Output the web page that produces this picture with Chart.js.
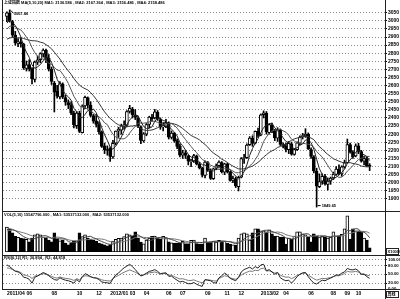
<!DOCTYPE html>
<html>
<head>
<meta charset="utf-8">
<script src="https://cdn.jsdelivr.net/npm/chart.js@4/dist/chart.umd.min.js"></script>
<style>
  body { margin: 0; background: #fff; }
  #wrap { position: relative; width: 400px; height: 299px; overflow: hidden; }
  canvas { position: absolute; left: 0; }
</style>
</head>
<body>
<div id="wrap">
  <canvas id="priceChart" width="400" height="212" style="top:0"></canvas>
  <canvas id="volChart" width="400" height="44" style="top:212px"></canvas>
  <canvas id="rsiChart" width="400" height="43" style="top:256px"></canvas>
</div>
<script>
// weekly candles, Shanghai composite
const open = [3028,3050,2995,2912,2860,2870,2855,2706,2730,2703, 2638,2745,2760,2795,2818,2770,2700,2615,2565,2530,
  2610,2526,2495,2480,2430,2352,2430,2310,2475,2525, 2480,2415,2382,2360,2315,2228,2203,2212,2160,2245,
  2320,2325,2350,2355,2440,2455,2420,2400,2345,2258, 2300,2360,2405,2400,2435,2390,2345,2350,2370,2280,
  2305,2260,2228,2170,2185,2165,2130,2135,2165,2115, 2090,2045,2125,2075,2025,2090,2105,2125,2065,2115,
  2065,2015,2025,1975,2035,2150,2155,2235,2275,2245, 2318,2295,2420,2430,2310,2355,2320,2275,2325,2235,
  2225,2205,2240,2175,2205,2245,2285,2290,2300,2205, 2160,2070,1975,2010,2040,1990,2010,2030,2052,2085,
  2055,2098,2124,2236,2190,2165,2228,2193,2133,2150, 2106];
const high = [3056,3067.46,3003,2935,2890,2893,2862,2752,2760,2712, 2752,2783,2803,2827,2826,2792,2715,2626,2602,2625,
  2617,2541,2512,2500,2442,2440,2442,2481,2536,2530, 2500,2422,2423,2376,2320,2245,2228,2220,2262,2320,
  2342,2362,2383,2446,2478,2466,2452,2412,2352,2310, 2366,2411,2422,2453,2446,2401,2371,2391,2376,2320,
  2311,2271,2240,2201,2200,2171,2146,2176,2171,2126, 2096,2136,2131,2086,2091,2116,2136,2131,2121,2121,
  2071,2041,2036,2041,2156,2175,2240,2285,2290,2320, 2337,2425,2444,2440,2365,2368,2330,2340,2332,2246,
  2243,2255,2251,2212,2252,2290,2305,2334,2308,2215, 2168,2090,2055,2055,2052,2030,2035,2066,2100,2110,
  2105,2140,2270,2245,2198,2240,2244,2200,2165,2160, 2118];
const low = [2995,2992,2900,2850,2840,2837,2700,2690,2690,2610, 2622,2730,2741,2776,2741,2690,2607,2437,2522,2518,
  2520,2478,2458,2420,2338,2335,2310,2307,2458,2460, 2408,2368,2344,2300,2218,2180,2170,2132,2150,2234,
  2280,2300,2330,2348,2430,2400,2390,2340,2242,2250, 2290,2340,2380,2394,2385,2330,2320,2340,2270,2270,
  2250,2210,2160,2150,2150,2110,2100,2125,2110,2085, 2035,2030,2070,2020,2020,2080,2095,2060,2050,2060,
  2010,2000,1970,1949.46,2030,2120,2150,2230,2225,2240, 2280,2290,2400,2300,2300,2310,2260,2255,2230,2215,
  2190,2180,2170,2170,2200,2235,2270,2280,2205,2150, 2060,1849.65,1970,1990,1985,1955,1990,2020,2045,2050,
  2040,2090,2120,2182,2150,2160,2180,2127,2110,2100, 2075];
const close = [3050,2999,2911,2864,2871,2858,2709,2728,2705,2642, 2746,2759,2797,2820,2772,2701,2626,2560,2534,2612,
  2528,2497,2482,2432,2359,2431,2317,2473,2528,2481, 2416,2380,2361,2315,2224,2204,2199,2163,2244,2319,
  2330,2352,2357,2439,2460,2420,2404,2349,2262,2302, 2359,2406,2396,2438,2394,2344,2350,2373,2281,2306,
  2260,2225,2170,2185,2168,2133,2132,2168,2114,2092, 2047,2127,2078,2026,2086,2104,2128,2067,2117,2069,
  2014,2026,1980,2033,2150,2153,2233,2276,2243,2317, 2292,2419,2432,2314,2359,2318,2278,2328,2236,2225,
  2206,2244,2177,2205,2246,2282,2288,2300,2210,2162, 2073,1979,2007,2039,1992,2010,2029,2052,2085,2057,
  2098,2124,2236,2191,2160,2228,2193,2133,2150,2106, 2101];

const ma5 = [2986,3005,2991,2971,2939,2901,2843,2806,2774,2728, 2706,2716,2730,2753,2779,2770,2743,2696,2639,2607,
  2572,2546,2531,2510,2460,2440,2404,2402,2422,2446, 2443,2456,2433,2391,2339,2297,2261,2221,2207,2226,
  2251,2282,2320,2359,2388,2406,2416,2414,2379,2347, 2335,2336,2345,2380,2399,2396,2384,2380,2348,2331,
  2314,2289,2248,2229,2202,2176,2158,2157,2143,2128, 2111,2110,2092,2074,2073,2084,2084,2082,2100,2097,
  2079,2059,2041,2024,2041,2068,2110,2169,2211,2244, 2272,2309,2341,2355,2363,2368,2340,2319,2304,2277,
  2255,2248,2218,2211,2216,2231,2240,2264,2265,2248, 2207,2145,2086,2052,2018,2005,2015,2024,2034,2047,
  2064,2083,2120,2141,2162,2188,2202,2181,2173,2162, 2137];
const ma10 = [2949,2967,2968,2964,2951,2944,2924,2899,2873,2834, 2804,2780,2768,2764,2754,2738,2730,2713,2696,2693,
  2671,2645,2614,2575,2534,2506,2475,2467,2466,2453, 2442,2430,2418,2407,2393,2370,2359,2327,2299,2283,
  2274,2272,2271,2283,2307,2329,2349,2367,2369,2368, 2371,2376,2380,2380,2373,2366,2360,2363,2364,2365,
  2355,2337,2314,2289,2267,2245,2224,2203,2186,2165, 2144,2134,2125,2109,2101,2098,2097,2087,2087,2085,
  2082,2072,2062,2062,2069,2074,2085,2105,2118,2143, 2170,2210,2255,2283,2304,2320,2325,2330,2330,2320,
  2312,2294,2269,2258,2247,2243,2244,2241,2238,2232, 2219,2193,2175,2159,2133,2106,2080,2055,2043,2033,
  2035,2049,2072,2088,2105,2126,2143,2151,2157,2162, 2163];
const ma20 = [2887,2894,2897,2896,2894,2896,2891,2885,2881,2877, 2877,2874,2868,2864,2853,2841,2827,2806,2785,2764,
  2738,2713,2691,2670,2644,2622,2603,2590,2581,2573, 2557,2538,2516,2491,2464,2438,2417,2397,2383,2368,
  2358,2351,2345,2345,2350,2350,2354,2347,2334,2326, 2323,2324,2326,2332,2340,2348,2355,2365,2367,2367,
  2363,2357,2347,2335,2320,2306,2292,2283,2275,2265, 2250,2236,2220,2199,2184,2172,2161,2145,2137,2125,
  2113,2103,2094,2086,2085,2086,2091,2096,2103,2114, 2126,2141,2159,2173,2187,2197,2205,2218,2224,2232,
  2241,2252,2262,2271,2276,2282,2285,2286,2284,2276, 2266,2244,2222,2209,2190,2175,2162,2148,2141,2133,
  2127,2121,2124,2124,2119,2116,2112,2103,2100,2098, 2099];

const volume = [7300,6800,5600,4600,4300,4100,3900,3700,3000,4100, 5000,5300,5000,4400,4100,3500,3000,5600,3800,3300,
  3500,2600,2100,2600,3200,3300,5600,4500,5000,4100, 3800,3400,3200,2600,2400,2100,1800,2200,3200,3700,
  4000,4100,4500,5300,5000,4700,5900,4100,2900,2400, 3500,4100,4600,4700,4100,3800,4600,4100,3000,2700,
  2600,2600,2600,3100,2400,2300,3400,3500,2500,2300, 2300,4100,2900,3000,3200,2900,3400,3300,3200,2600,
  2300,2100,2000,4100,5300,5600,5300,3500,5600,6800, 6800,6200,6200,5900,6500,5300,4700,4700,4400,4400,
  2300,4100,3800,4700,5900,5900,5300,5000,4400,3000, 5300,4700,4400,4700,4400,4100,4300,5900,4700,4600,
  5200,6800,10600,3800,6800,6200,6200,5900,4100,3500, 1200];
const volMa5 = [6560,6720,6640,6260,5720,5080,4500,4120,3800,3760, 3940,4220,4480,4760,4760,4460,4000,4120,4000,3840,
  3840,3760,3060,2820,2800,2760,3360,3840,4320,4500, 4600,4160,3900,3420,3080,2740,2420,2220,2340,2600,
  2980,3440,3900,4320,4580,4720,5080,5000,4520,4000, 3760,3400,3500,3860,4200,4260,4360,4260,3920,3640,
  3400,3000,2700,2720,2660,2600,2760,2940,2820,2800, 2800,2940,2820,2920,3100,3220,3080,3160,3200,3080,
  2960,2700,2440,2620,3160,3820,4460,4760,5060,5360, 5600,5780,6320,6380,6320,6020,5720,5420,5120,4700,
  4100,3980,3800,3860,4160,4880,5120,5360,5300,4720, 4600,4480,4360,4420,4700,4460,4380,4680,4680,4720,
  4940,5440,6380,6200,6640,6840,6720,5780,5840,5180, 4180];
const volMa10 = [6180,6310,6370,6280,6060,5820,5610,5380,5030,4740, 4510,4360,4300,4280,4260,4200,4110,4300,4380,4300,
  4150,3880,3590,3410,3320,3300,3560,3450,3570,3650, 3680,3760,3870,3870,3790,3670,3290,3060,2880,2840,
  2860,2930,3060,3330,3590,3850,4260,4450,4420,4290, 4240,4240,4250,4190,4100,4010,3880,3880,3890,3920,
  3830,3680,3480,3320,3150,3000,2880,2820,2770,2730, 2700,2850,2880,2870,2950,3010,3010,2990,3060,3090,
  3090,2890,2800,2910,3120,3390,3580,3600,3840,4260, 4710,5120,5540,5720,5840,5810,5750,5870,5750,5510,
  5060,4850,4610,4490,4430,4490,4550,4580,4580,4440, 4740,4800,4860,4860,4710,4530,4430,4520,4550,4710,
  4700,4910,5530,5440,5680,5890,6080,6080,6020,5910, 5510];

const rsi1 = [82,76,68,60,58,52,40,38,33,20, 40,44,50,56,52,45,38,32,30,38, 33,30,28,25,20,32,24,42,52,48,
  42,38,37,32,24,22,21,19,35,48, 54,64,72,78,84,76,66,55,44,48, 54,60,62,66,60,52,54,55,43,44,
  36,30,24,26,22,18,18,22,16,12, 9,32,30,28,22,20,38,45,54,48, 36,32,28,40,58,66,70,74,68,76,
  71,82,84,62,66,58,50,56,38,32, 28,30,20,30,42,50,55,56,42,30, 20,17,24,30,28,33,37,42,48,47,
  54,58,70,66,65,68,62,50,50,42, 36];
const rsi2 = [72,70,66,62,60,56,48,46,43,36, 44,46,49,52,50,47,43,39,37,41, 38,36,35,33,29,35,31,40,45,44,
  41,39,38,35,31,29,28,27,35,42, 46,52,57,61,65,61,57,52,46,48, 51,55,56,58,55,51,52,53,47,47,
  42,38,34,35,32,29,29,31,27,24, 21,31,31,30,28,27,36,40,45,43, 38,35,33,38,48,53,57,61,60,64,
  62,69,71,61,62,58,54,56,47,43, 40,41,35,40,46,50,53,54,47,41, 35,30,33,36,35,37,39,42,45,45,
  49,52,60,58,58,60,57,51,51,47, 45];

// month labels on the time axis: [week index, text]
const monthTicks = [[0,'2011/04'],[7,'06'],[16,'08'],[25,'10'],[32,'12'],[37,'2012/01'],[44,'03'],[49,'04'],
  [57,'06'],[62,'07'],[71,'09'],[78,'11'],[83,'12'],[91,'2013/02'],[99,'04'],[108,'06'],[116,'08'],[121,'09'],[125,'10']];
const rsiTicks = [0, 20, 50, 80, 100];

const priceTitle = '上证指数 MA(5,10,20) MA1: 2136.586 , MA2: 2167.364 , MA3: 2156.486 , MA4: 2158.486';
const volTitle = 'VOL(5,10) 15547796.000 , MA1: 53537132.000 , MA2: 53537132.000';
const rsiTitle = 'RSI(6,12) R1: 36.894 , R2: 44.818';

Chart.defaults.font.family = '"Liberation Sans", Arial, "Noto Sans CJK SC", sans-serif';
Chart.defaults.font.size = 5;
Chart.defaults.color = '#000';

const pts = arr => arr.map((v, i) => ({x: i, y: v}));
const bodyFill = close.map((c, i) => c >= open[i] ? '#fff' : '#000');
const textFont = 'bold 4px "Liberation Sans", "Noto Sans CJK SC", sans-serif';

const panelFrame = {
  id: 'panelFrame',
  afterDraw(chart, args, o) {
    const {ctx, chartArea: a} = chart;
    const bottom = o.bottom === 'area' ? a.bottom + 1 : chart.height;
    ctx.save();
    ctx.strokeStyle = '#222';
    ctx.lineWidth = 1;
    ctx.beginPath();
    ctx.moveTo(a.left - 0.5, 0); ctx.lineTo(a.left - 0.5, bottom);
    ctx.moveTo(a.right + 0.5, 0); ctx.lineTo(a.right + 0.5, chart.height);
    ctx.moveTo(a.left - 0.5, bottom - 0.5); ctx.lineTo(chart.width, bottom - 0.5);
    ctx.stroke();
    ctx.fillStyle = '#000';
    ctx.font = textFont;
    ctx.textBaseline = 'top';
    ctx.textAlign = 'left';
    ctx.fillText(o.title, a.left + 1, o.titleY);
    if (o.unit) {
      ctx.strokeRect(a.right + 1.5, o.unitY + 0.5, chart.width - a.right - 3, 6);
      ctx.fillText(o.unit, a.right + 2.5, o.unitY + 1.5);
    }
    ctx.restore();
  }
};

const priceMarks = {
  id: 'priceMarks',
  afterDatasetsDraw(chart) {
    const {ctx, scales: {x, y}} = chart;
    const hi = Math.max(...high), lo = Math.min(...low);
    const iHi = high.indexOf(hi), iLo = low.indexOf(lo);
    ctx.save();
    ctx.fillStyle = '#000';
    ctx.strokeStyle = '#000';
    ctx.font = textFont;
    ctx.textAlign = 'left';
    ctx.textBaseline = 'middle';
    const hx = x.getPixelForValue(iHi), hy = y.getPixelForValue(hi);
    ctx.beginPath(); ctx.moveTo(hx + 1, hy + 0.5); ctx.lineTo(hx + 4, hy + 3.5); ctx.stroke();
    ctx.fillText(hi.toFixed(2), hx + 4, hy + 4);
    const lx = x.getPixelForValue(iLo), ly = y.getPixelForValue(lo);
    ctx.beginPath(); ctx.moveTo(lx + 1, ly - 1.5); ctx.lineTo(lx + 4, ly - 1.5); ctx.stroke();
    ctx.fillText(lo.toFixed(2), lx + 5, ly - 1.5);
    ctx.restore();
  }
};

const xHidden = {type: 'linear', min: -1.4, max: 135.5, offset: false, display: false};
const yRight = (extra) => Object.assign({
  position: 'right',
  afterFit: s => { s.width = 15; },
  grid: {color: '#8a8a8a', tickColor: '#000', tickLength: 2, lineWidth: 1},
  border: {display: false, dash: [1, 2]}
}, extra);
const lineSet = (data, color) => ({type: 'line', data: pts(data), borderColor: color, borderWidth: 1,
  pointRadius: 0, order: 0});
const base = (pad) => ({
  responsive: false, animation: false, events: [],
  layout: {padding: pad}
});

new Chart(document.getElementById('priceChart'), {
  type: 'bar',
  data: {
    datasets: [
      lineSet(ma5, '#222'),
      lineSet(ma10, '#555'),
      lineSet(ma20, '#333'),
      {data: close.map((c, i) => ({x: i, y: [open[i], c]})), backgroundColor: bodyFill, borderColor: '#000',
        borderWidth: 1, borderSkipped: false, barThickness: 3, minBarLength: 1, grouped: false, order: 1},
      {data: high.map((h, i) => ({x: i, y: [low[i], h]})), backgroundColor: '#000', barThickness: 1,
        grouped: false, order: 2}
    ]
  },
  options: Object.assign(base({left: 3, right: 0, top: 1, bottom: 1}), {
    plugins: {legend: {display: false}, tooltip: {enabled: false},
      panelFrame: {title: priceTitle, titleY: 1}},
    scales: {
      x: xHidden,
      y: yRight({min: 1844, max: 3104,
        afterBuildTicks: s => { s.ticks = s.ticks.filter(t => t.value % 50 === 0); },
        ticks: {stepSize: 50, autoSkip: false, padding: 1, font: {size: 5, weight: 'bold'},
          callback: v => String(v)}})
    }
  }),
  plugins: [panelFrame, priceMarks]
});

new Chart(document.getElementById('volChart'), {
  type: 'bar',
  data: {
    datasets: [
      lineSet(volMa5, '#444'),
      lineSet(volMa10, '#777'),
      {data: pts(volume), backgroundColor: volume.map((v, i) => bodyFill[i]), borderColor: '#000',
        borderWidth: 1, borderSkipped: false, barThickness: 3, grouped: false, order: 1}
    ]
  },
  options: Object.assign(base({left: 3, right: 0, top: 2, bottom: 4}), {
    plugins: {legend: {display: false}, tooltip: {enabled: false},
      panelFrame: {title: volTitle, titleY: 1, unit: 'X10000', unitY: 36}},
    scales: {
      x: xHidden,
      y: yRight({min: 0, max: 11140,
        afterBuildTicks: s => { s.ticks = s.ticks.filter(t => t.value > 0 && t.value % 2000 === 0); },
        ticks: {stepSize: 2000, autoSkip: false, padding: 1, font: {size: 4.3, weight: 'bold'},
          callback: v => String(v)}})
    }
  }),
  plugins: [panelFrame]
});

new Chart(document.getElementById('rsiChart'), {
  type: 'line',
  data: {
    datasets: [
      {data: pts(rsi1), borderColor: '#222', borderWidth: 1, pointRadius: 0},
      {data: pts(rsi2), borderColor: '#777', borderWidth: 1, pointRadius: 0}
    ]
  },
  options: Object.assign(base({left: 3, right: 0, top: 2, bottom: 0}), {
    plugins: {legend: {display: false}, tooltip: {enabled: false},
      panelFrame: {title: rsiTitle, titleY: 0, bottom: 'area', unit: '周线', unitY: 35}},
    scales: {
      x: {type: 'linear', min: -1.4, max: 135.5, offset: false,
        afterFit: s => { s.height = 10; },
        afterBuildTicks: s => { s.ticks = monthTicks.map(t => ({value: t[0]})); },
        grid: {display: false, drawTicks: false},
        border: {display: false},
        ticks: {autoSkip: false, maxRotation: 0, align: 'start', padding: 2,
          font: {size: 5, weight: 'bold'},
          callback: v => { const m = monthTicks.find(t => t[0] === v); return m ? m[1] : ''; }}},
      y: yRight({min: 0, max: 100,
        afterBuildTicks: s => { s.ticks = rsiTicks.map(v => ({value: v})); },
        ticks: {autoSkip: false, padding: 1, font: {size: 4.3, weight: 'bold'},
          callback: v => v.toFixed(2)}})
    }
  }),
  plugins: [panelFrame]
});
</script>
</body>
</html>
